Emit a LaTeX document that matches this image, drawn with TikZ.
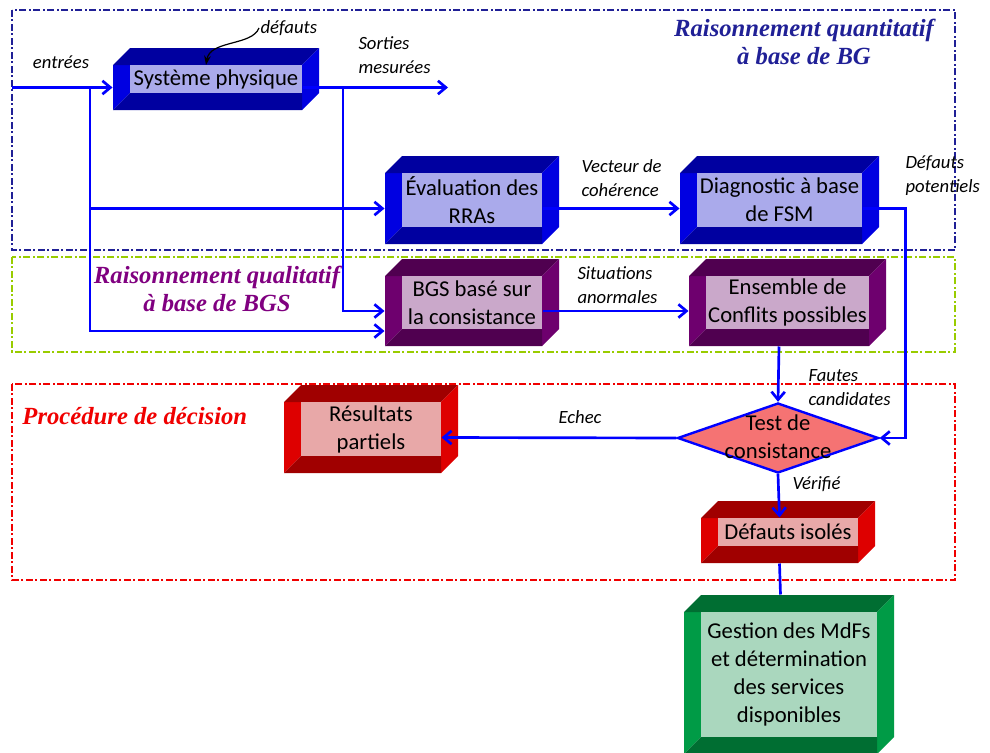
\documentclass[tikz,border=0pt]{standalone}
\usepackage{fontspec}
\setmainfont{Carlito}
\newfontfamily\titlefont{Liberation Serif}
\usetikzlibrary{arrows.meta,shapes.geometric,fit,calc}

\definecolor{flowblue}{RGB}{0,0,255}
\definecolor{bluedark}{RGB}{0,0,160}
\definecolor{blueside}{RGB}{0,0,225}
\definecolor{bluelight}{RGB}{170,170,235}
\definecolor{purpledark}{RGB}{80,0,80}
\definecolor{purpleside}{RGB}{110,0,110}
\definecolor{purplelight}{RGB}{202,168,202}
\definecolor{reddark}{RGB}{160,0,0}
\definecolor{redside}{RGB}{222,0,0}
\definecolor{redlight}{RGB}{232,168,168}
\definecolor{greendark}{RGB}{0,110,50}
\definecolor{greenside}{RGB}{0,155,70}
\definecolor{greenlight}{RGB}{170,215,190}
\definecolor{quantnavy}{RGB}{32,32,150}
\definecolor{qualpurple}{RGB}{128,0,128}
\definecolor{zonegreen}{RGB}{153,204,0}
\definecolor{zonered}{RGB}{240,0,0}
\definecolor{testfill}{RGB}{245,115,115}

\tikzset{every picture/.style={line width=0.75pt}}
\tikzset{
  zone/.style={line width=1.3pt, dash pattern=on 5pt off 2pt on 1.5pt off 2pt},
  flow/.style={draw=flowblue, line width=2pt, -{Straight Barb[length=6pt,width=10pt]}},
  link/.style={draw=flowblue, line width=2pt},
  boxtxt/.style={inner sep=0pt, align=center, font=\fontsize{17}{21}\selectfont},
  lab/.style={inner sep=0.75pt, align=left, font=\fontsize{14}{18}\selectfont\itshape},
  titl/.style={inner sep=0.75pt, align=center, font=\titlefont\bfseries\itshape\fontsize{18.5}{21}\selectfont},
  decision/.style={diamond, draw=flowblue, line width=1.8pt, fill=testfill, inner sep=0pt,
    minimum width=150.75pt, minimum height=52.5pt}
}

% 3D box: #1 name, #2..#5 light face (x1,y1,x2,y2), #6 colour, #7 text
\newcommand{\cubebox}[7]{%
  \fill[#6side] (#2-17,#3) -- (#2,#3) -- (#2,#5) -- (#2-17,#5+17) -- cycle;
  \fill[#6dark] (#2-17,#3) -- (#2,#3-17) -- (#4+17,#3-17) -- (#4,#3) -- cycle;
  \fill[#6side] (#4,#3) -- (#4+17,#3-17) -- (#4+17,#5) -- (#4,#5+17) -- cycle;
  \fill[#6dark] (#2-17,#5+17) -- (#2,#5) -- (#4,#5) -- (#4,#5+17) -- cycle;
  \node[inner sep=0pt, fill=#6light, fit={(#2,#3) (#4,#5)}] (#1 face) {};
  \node[boxtxt] (#1 txt) at (#1 face) {#7};
  \node[inner sep=0pt, fit={(#2-17,#3) (#4,#5+17)}] (#1) {};
}

\begin{document}
\begin{tikzpicture}[x=0.75pt,y=0.75pt,yscale=-1,xscale=1]
\useasboundingbox (0,0) rectangle (990,753);

%Shape: zones
\draw[zone, quantnavy] (12,10) rectangle (955,250);
\draw[zone, zonegreen] (12,257) rectangle (955,352);
\draw[zone, zonered] (12,384) rectangle (955,580);

% Titles
\node[titl, text=quantnavy] (quant) at (804,42) {Raisonnement quantitatif\\à base de BG};
\node[titl, text=qualpurple] (qual) at (217,289) {Raisonnement qualitatif\\à base de BGS};
\node[titl, text=zonered, anchor=west] (decis) at (21,416) {Procédure de décision};

%Shape: boxes
\cubebox{sys}{130}{65}{302}{93}{blue}{Système physique}
\cubebox{eval}{402}{173}{542}{227}{blue}{Évaluation des\\RRAs}
\cubebox{diag}{697}{173}{862}{227}{blue}{Diagnostic à base\\de FSM}
\cubebox{bgs}{402}{276}{542}{329}{purple}{BGS basé sur\\la consistance}
\cubebox{ens}{706}{276}{869}{329}{purple}{Ensemble de\\Conflits possibles}
\cubebox{res}{301}{402}{441}{456}{red}{Résultats\\partiels}
\cubebox{iso}{718}{518}{858}{546}{red}{Défauts isolés}
\cubebox{gest}{701}{612}{877}{737}{green}{Gestion des MdFs\\et détermination\\des services\\disponibles}

%Shape: decision
\node[decision] (test) at (778,438) {};
\node[boxtxt] (test txt) at (778,437) {Test de\\consistance};

%Straight Lines
\coordinate (in) at (12,87.5);
\coordinate (out) at (448,87.5);
\coordinate (b1) at (90,87.5);
\coordinate (b2) at (343,87.5);
\draw[flow] (in) -- (sys.west);
\draw[flow] (sys.east) -- (out);
\draw[flow] (b1) |- (eval.west);
\draw[flow] (b1) |- ($(bgs.west)+(0,20)$);
\draw[flow] (b2) |- (bgs.west);
\draw[flow] (eval.east) -- (diag.west);
\draw[flow] (diag.east) -- ++(43,0) |- (test.east);
\draw[flow] (bgs.east) -- (ens.west);
\draw[flow] (ens.south) -- (test.north);
\draw[flow] (test.west) -- (res.east);
\draw[flow] (test.south) -- (iso.north);
\draw[link] (iso.south) -- ($(gest.north)+(0,-17)$);

% Text Node
\node[lab] (inlab) at (61,62) {entrées};
\node[lab, anchor=west] (deflab) at (259,28) {défauts};
\node[lab, anchor=west] (sortlab) at (357,55) {Sorties\\mesurées};
\node[lab, anchor=west] (veclab) at (580,178) {Vecteur de\\cohérence};
\node[lab, anchor=west] (potlab) at (904,176) {Défauts\\potentiels};
\node[lab, anchor=west] (sitlab) at (576,285) {Situations\\anormales};
\node[lab, anchor=west] (fautlab) at (807,388) {Fautes\\candidates};
\node[lab] (echlab) at (580,417) {Echec};
\node[lab, anchor=west] (verlab) at (791,484) {Vérifié};

%Curve Lines
\coordinate (defpt) at (206,65);
\draw[-{Stealth[length=7pt,width=5pt]}, line width=0.9pt] (deflab.west) .. controls (252,46) and (210,40) .. (defpt);

\end{tikzpicture}
\end{document}
